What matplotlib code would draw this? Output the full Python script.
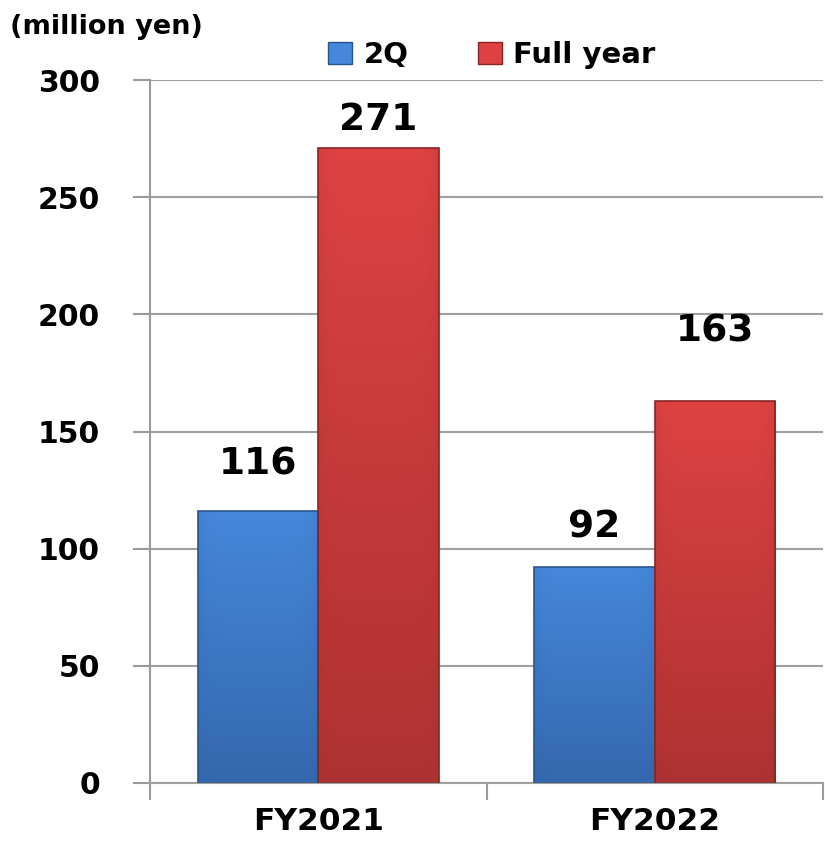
#!/usr/bin/env python3
"""Bar chart: 2Q vs full year, million yen."""

import matplotlib
matplotlib.use("Agg")
import matplotlib.pyplot as plt
import numpy as np
from matplotlib.colors import LinearSegmentedColormap
from matplotlib.patches import Rectangle

categories = ["FY2021", "FY2022"]
series_names = ["2Q", "Full year"]
values_2q = [116, 92]
values_full = [271, 163]
y_ticks = [0, 50, 100, 150, 200, 250, 300]

# vertical offsets (points) of the value labels above each bar
label_offsets_2q = [21, 16]
label_offsets_full = [7, 37]

blue_top, blue_bot, blue_edge = "#4587da", "#3263a6", "#2a548c"
red_top, red_bot, red_edge = "#de4242", "#a52f2f", "#8a2424"

plt.rcParams["font.family"] = ["DejaVu Sans"]
plt.rcParams["font.weight"] = "bold"

fig = plt.figure(figsize=(8.25, 8.42), dpi=100)
ax = fig.add_axes([150 / 825, 1 - 783 / 842, 673 / 825, (783 - 80) / 842])

x = np.arange(len(categories))
width = 0.358


def gradient_bars(xs, vals, top, bot, edge):
    bars = ax.bar(xs, vals, width, color="none", edgecolor=edge, linewidth=1.2, zorder=3)
    cmap = LinearSegmentedColormap.from_list("g", [bot, top])
    for rect in bars:
        x0, w, h = rect.get_x(), rect.get_width(), rect.get_height()
        grad = np.linspace(0.15, 1.0, 256).reshape(-1, 1)
        side = np.linspace(-1, 1, 64)
        shade = grad * (1 - 0.18 * side ** 8)
        im = ax.imshow(shade, cmap=cmap, vmin=0, vmax=1, origin="lower",
                       extent=[x0, x0 + w, 0, h], aspect="auto", zorder=2,
                       interpolation="bilinear")
        im.set_clip_path(rect)
    return bars


b1 = gradient_bars(x - width / 2, values_2q, blue_top, blue_bot, blue_edge)
b2 = gradient_bars(x + width / 2, values_full, red_top, red_bot, red_edge)

for bars, vals, offs in [(b1, values_2q, label_offsets_2q), (b2, values_full, label_offsets_full)]:
    for rect, v, off in zip(bars, vals, offs):
        ax.annotate(f"{v}", (rect.get_x() + rect.get_width() / 2, v),
                    xytext=(0, off), textcoords="offset points",
                    ha="center", va="bottom", fontsize=27, fontweight="bold")

ax.set_xlim(-0.5, len(categories) - 0.5)
ax.set_ylim(0, 300)
ax.set_yticks(y_ticks)
ax.set_yticklabels([str(t) for t in y_ticks], fontsize=21.5, fontweight="bold")
ax.set_xticks(x)
ax.set_xticklabels(categories, fontsize=22.5, fontweight="bold")
ax.set_xticks(np.arange(len(categories) + 1) - 0.5, minor=True)
ax.tick_params(axis="x", which="major", length=0, pad=17)
ax.tick_params(axis="x", which="minor", length=12, width=1.5, color="#9a9a9a")
ax.tick_params(axis="y", length=12, width=1.5, color="#9a9a9a", pad=24)

ax.grid(axis="y", color="#a0a0a0", linewidth=1.5, zorder=0)
ax.set_axisbelow(True)
for s in ["top", "right"]:
    ax.spines[s].set_visible(False)
ax.spines["left"].set_color("#9a9a9a")
ax.spines["left"].set_linewidth(1.5)
ax.spines["bottom"].set_color("#a0a0a0")
ax.spines["bottom"].set_linewidth(1.5)

fig.text(10 / 825, 1 - 27 / 842, "(million yen)", fontsize=19.5, fontweight="bold",
         va="center", ha="left")

handles = [Rectangle((0, 0), 1, 1, facecolor=blue_top, edgecolor=blue_edge),
           Rectangle((0, 0), 1, 1, facecolor=red_top, edgecolor=red_edge)]
fig.legend(handles, series_names, loc="center", bbox_to_anchor=(492 / 825, 1 - 55 / 842),
           ncol=2, frameon=False, prop={"size": 21, "weight": "bold"},
           handlelength=0.8, handleheight=0.8, handletextpad=0.4, columnspacing=2.4)

fig.savefig("out.png", dpi=100)
